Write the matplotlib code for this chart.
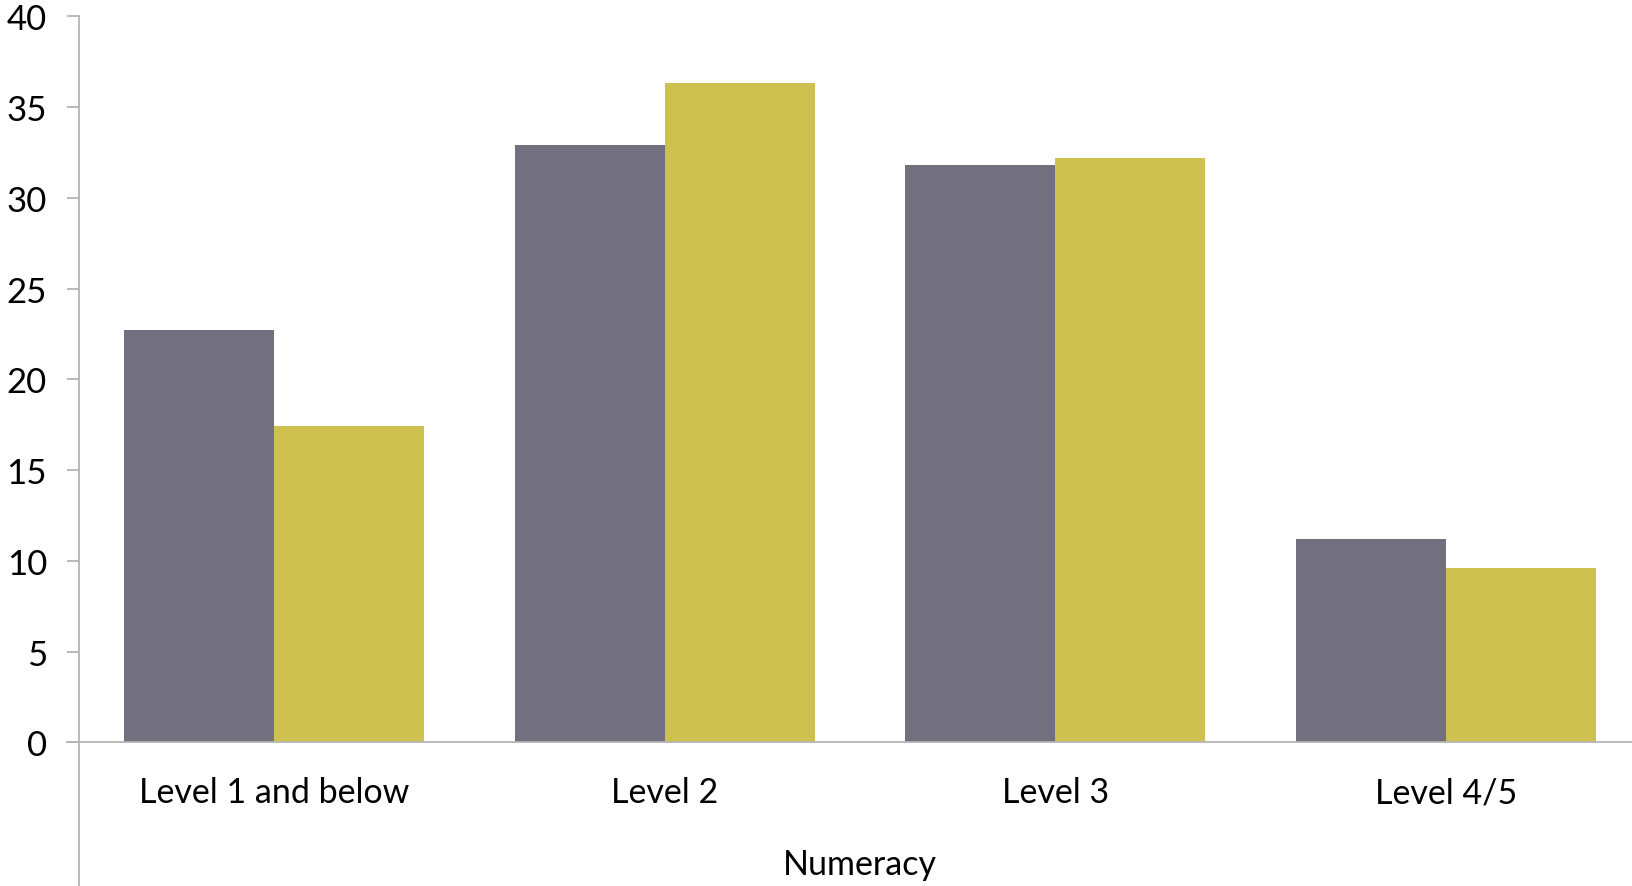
import matplotlib
matplotlib.use("Agg")
import matplotlib.pyplot as plt
import numpy as np

categories = ["Level 1 and below", "Level 2", "Level 3", "Level 4/5"]
series_a = [22.7, 32.9, 31.8, 11.2]
series_b = [17.4, 36.3, 32.2, 9.6]
yticks = [0, 5, 10, 15, 20, 25, 30, 35, 40]
xlabel = "Numeracy"

plt.rcParams['font.family'] = ['Lato', 'DejaVu Sans']

W, H = 1633, 887
fig = plt.figure(figsize=(W/100, H/100), dpi=100)
left = 79 / W
right = 1641 / W
top = 1 - 17.3 / H
bottom = 0.0
ax = fig.add_axes([left, bottom, right - left, top - bottom])

x = np.arange(len(categories))
bw = 0.384
ax.bar(x - bw/2, series_a, width=bw, color="#726F7E", edgecolor="none", zorder=2)
ax.bar(x + bw/2, series_b, width=bw, color="#CFC14F", edgecolor="none", zorder=2)

ymin = -(887 - 743.3) / 18.15
ax.set_ylim(ymin, 40)
ax.set_xlim(-0.5, 3.5)
ax.axhline(0, color="#B4B4B4", lw=1.3, zorder=3, xmin=-12 / (1641 - 79), clip_on=False)

ax.set_yticks(yticks)
ax.set_yticklabels([str(v) for v in yticks], fontsize=25)
ax.tick_params(axis='y', length=9, width=1.3, color="#B4B4B4", pad=14)
ax.set_xticks(x)
ax.set_xticklabels([])
ax.tick_params(axis='x', length=0, pad=0)
for xi, c in zip(x, categories):
    ax.text(xi, -2.75, c, ha='center', va='center', fontsize=24.5)
ax.text(1.5, -6.7, xlabel, ha='center', va='center', fontsize=24.5)

for s in ['top', 'right', 'bottom']:
    ax.spines[s].set_visible(False)
ax.spines['left'].set_color("#B4B4B4")
ax.spines['left'].set_linewidth(1.3)

fig.savefig("out.png", dpi=100)
